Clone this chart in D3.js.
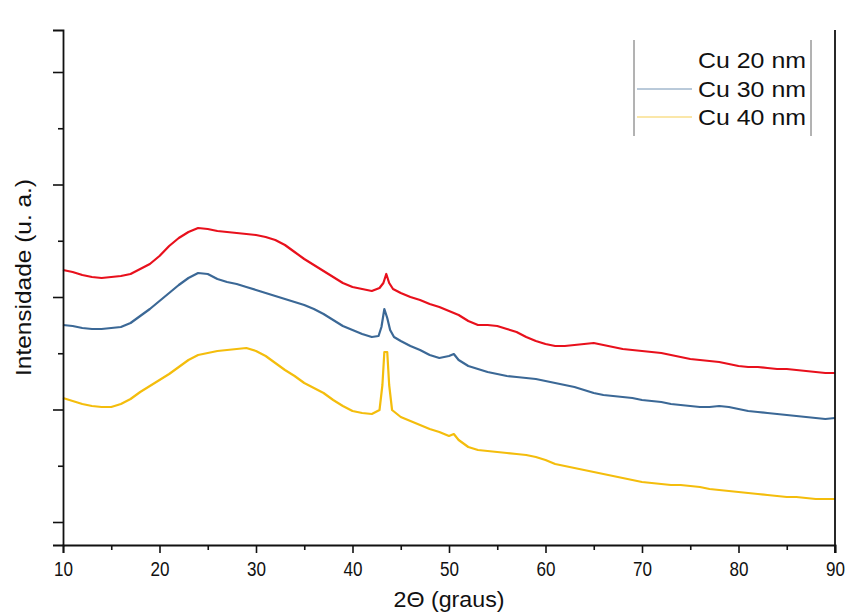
<!DOCTYPE html>
<html>
<head>
<meta charset="utf-8">
<script src="https://cdn.jsdelivr.net/npm/d3@7"></script>
<style>
  html, body { margin: 0; padding: 0; background: #fff; }
  svg { display: block; }
  text { font-family: "Liberation Sans", Arial, sans-serif; fill: #111; }
</style>
</head>
<body>
<svg id="chart" width="848" height="612"></svg>
<script>
// XRD patterns of Cu films (arbitrary intensity units)
const seriesNames = ["Cu 20 nm", "Cu 30 nm", "Cu 40 nm"];
const seriesColors = ["#e8101c", "#3b6896", "#f4bd0c"];

const angleCu20 = [10,11,12,13,14,15,16,17,18,19,20,21,22,23,24,25,26,27,28,29,30,31,32,33,34,35,36,37,38,39,40,41,42,42.8,43.2,43.5,43.8,44.2,45,46,47,48,49,50,51,52,53,54,55,56,57,58,59,60,61,62,63,64,65,66,67,68,69,70,71,72,73,74,75,76,77,78,79,80,81,82,83,84,85,86,87,88,89,90];
const intensityCu20 = [2750,2730,2700,2680,2670,2680,2690,2710,2760,2810,2890,2990,3070,3130,3170,3160,3140,3130,3120,3110,3100,3080,3050,3000,2930,2860,2800,2740,2680,2620,2580,2560,2540,2570,2620,2710,2620,2560,2520,2480,2450,2410,2380,2340,2300,2240,2200,2200,2190,2160,2130,2080,2040,2010,1990,1990,2000,2010,2020,2000,1980,1960,1950,1940,1930,1920,1900,1880,1860,1850,1840,1830,1810,1790,1780,1780,1770,1760,1760,1750,1740,1730,1720,1720];

const angleCu30 = [10,11,12,13,14,15,16,17,18,19,20,21,22,23,24,25,26,27,28,29,30,31,32,33,34,35,36,37,38,39,40,41,42,42.7,43.0,43.3,43.6,43.9,44.3,45,46,47,48,49,50,50.5,51,52,53,54,55,56,57,58,59,60,61,62,63,64,65,66,67,68,69,70,71,72,73,74,75,76,77,78,79,80,81,82,83,84,85,86,87,88,89,90];
const intensityCu30 = [2200,2190,2170,2160,2160,2170,2180,2220,2290,2360,2440,2520,2600,2670,2720,2710,2660,2630,2610,2580,2550,2520,2490,2460,2430,2400,2360,2310,2250,2190,2150,2110,2080,2090,2180,2360,2270,2150,2080,2040,1990,1950,1900,1870,1890,1910,1850,1790,1760,1730,1710,1690,1680,1670,1660,1640,1620,1600,1580,1550,1520,1500,1490,1480,1470,1450,1440,1430,1410,1400,1390,1380,1380,1390,1380,1360,1340,1330,1320,1310,1300,1290,1280,1270,1260,1270];

const angleCu40 = [10,11,12,13,14,15,16,17,18,19,20,21,22,23,24,25,26,27,28,29,30,31,32,33,34,35,36,37,38,39,40,41,42,42.8,43.1,43.3,43.6,43.8,44.1,45,46,47,48,49,50,50.5,51,52,53,54,55,56,57,58,59,60,61,62,63,64,65,66,67,68,69,70,71,72,73,74,75,76,77,78,79,80,81,82,83,84,85,86,87,88,89,90];
const intensityCu40 = [1470,1440,1410,1390,1380,1380,1410,1460,1530,1590,1650,1710,1780,1850,1900,1920,1940,1950,1960,1970,1940,1890,1820,1750,1690,1620,1570,1520,1450,1390,1340,1320,1310,1350,1600,1930,1930,1600,1350,1280,1240,1200,1160,1130,1090,1110,1050,980,950,940,930,920,910,900,880,850,810,790,770,750,730,710,690,670,650,630,620,610,600,600,590,580,560,550,540,530,520,510,500,490,480,480,470,460,460,460];

const xTickValues = [10, 20, 30, 40, 50, 60, 70, 80, 90];
const xMinorTickValues = [15, 25, 35, 45, 55, 65, 75, 85];
const yMajorTickValues = [230, 1355, 2480, 3605, 4730];
const yMinorTickValues = [792.5, 1917.5, 3042.5, 4167.5];

const series = [
  { name: seriesNames[0], color: seriesColors[0], angle: angleCu20, value: intensityCu20 },
  { name: seriesNames[1], color: seriesColors[1], angle: angleCu30, value: intensityCu30 },
  { name: seriesNames[2], color: seriesColors[2], angle: angleCu40, value: intensityCu40 }
];

const svg = d3.select("#chart");
const margin = { left: 63, right: 13, top: 30, bottom: 67 };
const W = 848, H = 612;
const x = d3.scaleLinear().domain([10, 90]).range([margin.left, W - margin.right]);
const y = d3.scaleLinear().domain([0, 5150]).range([H - margin.bottom, margin.top]);

// curves
const line = d3.line().x(d => x(d[0])).y(d => y(d[1]));
series.forEach(s => {
  const pts = s.angle.map((a, i) => [a, s.value[i]]);
  svg.append("path")
    .datum(pts)
    .attr("fill", "none")
    .attr("stroke", s.color)
    .attr("stroke-width", 2.2)
    .attr("stroke-linejoin", "round")
    .attr("d", line);
});

// bottom axis
const gx = svg.append("g").attr("transform", `translate(0,${y(0)})`)
  .call(d3.axisBottom(x).tickValues(xTickValues).tickSize(8).tickPadding(9).tickFormat(d3.format("d")));
svg.append("g").attr("transform", `translate(0,${y(0)})`)
  .call(d3.axisBottom(x).tickValues(xMinorTickValues).tickSize(5).tickFormat(""))
  .call(g => g.select(".domain").remove());

// left axis (no labels)
svg.append("g").attr("transform", `translate(${x(10)},0)`)
  .call(d3.axisLeft(y).tickValues(yMajorTickValues).tickSize(10).tickFormat(""));
svg.append("g").attr("transform", `translate(${x(10)},0)`)
  .call(d3.axisLeft(y).tickValues(yMinorTickValues).tickSize(5).tickFormat(""))
  .call(g => g.select(".domain").remove());

svg.selectAll(".domain").attr("stroke", "#111").attr("stroke-width", 1.8);
svg.selectAll(".tick line").attr("stroke", "#111").attr("stroke-width", 1.6);
gx.selectAll(".tick text")
  .attr("font-size", 20).attr("fill", "#111")
  .attr("font-family", "Liberation Sans, Arial, sans-serif")
  .attr("textLength", 19).attr("lengthAdjust", "spacingAndGlyphs");

// right frame line
svg.append("line")
  .attr("x1", x(90)).attr("x2", x(90))
  .attr("y1", y(5150)).attr("y2", y(0) + 8)
  .attr("stroke", "#111").attr("stroke-width", 1.8);

// axis titles
svg.append("text")
  .attr("x", 449).attr("y", 607)
  .attr("text-anchor", "middle").attr("font-size", 22)
  .attr("textLength", 111).attr("lengthAdjust", "spacingAndGlyphs")
  .text("2Θ (graus)");
svg.append("text")
  .attr("transform", `translate(31,${(y(0) + y(5150)) / 2 - 10}) rotate(-90)`)
  .attr("text-anchor", "middle").attr("font-size", 22)
  .attr("textLength", 197).attr("lengthAdjust", "spacingAndGlyphs")
  .text("Intensidade (u. a.)");

// legend
const legend = svg.append("g");
legend.append("line").attr("x1", 634).attr("x2", 634).attr("y1", 40).attr("y2", 136)
  .attr("stroke", "#666").attr("stroke-width", 1);
legend.append("line").attr("x1", 811).attr("x2", 811).attr("y1", 40).attr("y2", 136)
  .attr("stroke", "#666").attr("stroke-width", 1);
const rowY = [68, 97, 125];
series.forEach((s, i) => {
  if (i > 0) {
    legend.append("line")
      .attr("x1", 637).attr("x2", 692)
      .attr("y1", rowY[i] - 8).attr("y2", rowY[i] - 8)
      .attr("stroke", s.color).attr("stroke-width", 1).attr("opacity", 0.7);
  }
  legend.append("text")
    .attr("x", 698).attr("y", rowY[i])
    .attr("font-size", 22)
    .attr("textLength", 108).attr("lengthAdjust", "spacingAndGlyphs")
    .text(s.name);
});
</script>
</body>
</html>
